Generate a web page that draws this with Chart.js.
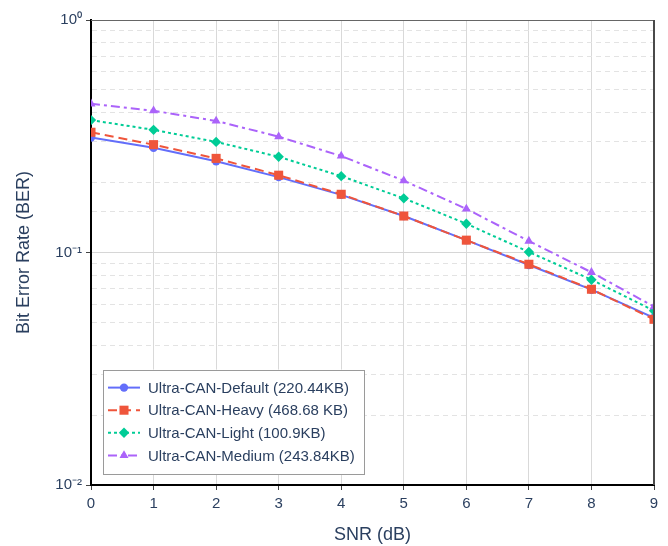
<!DOCTYPE html>
<html>
<head>
<meta charset="utf-8">
<script src="https://cdn.jsdelivr.net/npm/chart.js@4/dist/chart.umd.min.js"></script>
<style>
html,body{margin:0;padding:0;background:#ffffff;}
#wrap{width:668px;height:546px;position:relative;}
</style>
</head>
<body>
<div id="wrap"><canvas id="c" width="668" height="546"></canvas></div>
<script>
// ---- data ----
const snrLabels = ['0','1','2','3','4','5','6','7','8','9'];
const berDefault = [0.312, 0.282, 0.247, 0.211, 0.177, 0.1436, 0.113, 0.0884, 0.0692, 0.0524];
const berHeavy   = [0.329, 0.291, 0.254, 0.215, 0.178, 0.1435, 0.113, 0.0890, 0.0695, 0.0516];
const berLight   = [0.371, 0.337, 0.299, 0.258, 0.213, 0.171, 0.133, 0.1005, 0.0764, 0.0562];
const berMedium  = [0.436, 0.407, 0.368, 0.315, 0.260, 0.2037, 0.154, 0.112, 0.0822, 0.0585];
const seriesNames = [
  'Ultra-CAN-Default (220.44KB)',
  'Ultra-CAN-Heavy (468.68 KB)',
  'Ultra-CAN-Light (100.9KB)',
  'Ultra-CAN-Medium (243.84KB)'
];
const yTickValues = [0.01, 0.1, 1];
const yTickLabels = ['10\u207B\u00B2', '10\u207B\u00B9', '10\u2070'];
const xTitle = 'SNR (dB)';
const yTitle = 'Bit Error Rate (BER)';

const FONT = "'Liberation Sans', Arial, Helvetica, sans-serif";
const TXT = '#2a3f5f';
const isMajor = v => Math.abs(Math.log10(v) - Math.round(Math.log10(v))) < 1e-6;

function mkSet(label, data, color, dash, style, radius, order) {
  return {
    label: label, data: data,
    borderColor: color, backgroundColor: color,
    borderWidth: 2, borderDash: dash,
    pointStyle: style, pointRadius: radius,
    pointBackgroundColor: color, pointBorderColor: color, pointBorderWidth: 0,
    tension: 0, fill: false, clip: 0, order: order
  };
}

const datasets = [
  mkSet(seriesNames[0], berDefault, '#636efa', [], 'circle', 4.2, 4),
  mkSet(seriesNames[1], berHeavy, '#ef553b', [9, 5], 'rect', 6.4, 3),
  mkSet(seriesNames[2], berLight, '#00cc96', [3, 3], 'rectRot', 5.2, 2),
  mkSet(seriesNames[3], berMedium, '#ab63fa', [9, 4, 3, 4], 'triangle', 5.2, 1)
];

const framePlugin = {
  id: 'frame',
  afterDatasetsDraw(chart) {
    const {ctx, chartArea: a} = chart;
    ctx.save();
    ctx.setLineDash([]);
    ctx.strokeStyle = '#666666';
    ctx.lineWidth = 1.2;
    ctx.beginPath();
    ctx.moveTo(a.left, a.top + 0.5);
    ctx.lineTo(a.right, a.top + 0.5);
    ctx.stroke();
    ctx.strokeStyle = '#4a4a4a';
    ctx.lineWidth = 2;
    ctx.beginPath();
    ctx.moveTo(a.right, a.top);
    ctx.lineTo(a.right, a.bottom);
    ctx.stroke();
    ctx.restore();
  }
};

const legendPlugin = {
  id: 'innerLegend',
  afterDraw(chart) {
    const {ctx, chartArea: a} = chart;
    const sets = chart.data.datasets;
    const boxL = a.left + 12, boxR = a.left + 273;
    const boxB = a.bottom - 11, rowH = 22.6;
    const boxT = boxB - (rowH * sets.length + 14);
    ctx.save();
    ctx.fillStyle = '#ffffff';
    ctx.fillRect(boxL, boxT, boxR - boxL, boxB - boxT);
    ctx.strokeStyle = '#9a9a9a';
    ctx.lineWidth = 1;
    ctx.setLineDash([]);
    ctx.strokeRect(Math.round(boxL) + 0.5, Math.round(boxT) + 0.5, Math.round(boxR - boxL), Math.round(boxB - boxT));
    ctx.font = '15px ' + FONT;
    ctx.textBaseline = 'middle';
    ctx.textAlign = 'left';
    sets.forEach((ds, i) => {
      const y = boxT + 18 + i * rowH;
      const x0 = boxL + 5, x1 = boxL + 37, xm = (x0 + x1) / 2;
      ctx.strokeStyle = ds.borderColor;
      ctx.lineWidth = 2;
      ctx.setLineDash(ds.borderDash || []);
      ctx.beginPath();
      ctx.moveTo(x0, y);
      ctx.lineTo(x1, y);
      ctx.stroke();
      ctx.setLineDash([]);
      ctx.fillStyle = ds.pointBackgroundColor;
      ctx.strokeStyle = ds.pointBorderColor;
      Chart.helpers.drawPoint(ctx, {pointStyle: ds.pointStyle, rotation: 0, radius: ds.pointRadius, borderWidth: 0}, xm, y);
      ctx.fillStyle = TXT;
      ctx.fillText(ds.label, boxL + 45, y + 1);
    });
    ctx.restore();
  }
};

new Chart(document.getElementById('c'), {
  type: 'line',
  data: { labels: snrLabels, datasets: datasets },
  plugins: [framePlugin, legendPlugin],
  options: {
    responsive: false,
    animation: false,
    devicePixelRatio: 1,
    layout: { padding: { top: 20, right: 14, bottom: 0, left: 0 } },
    plugins: { legend: { display: false }, tooltip: { enabled: false } },
    scales: {
      x: {
        type: 'category',
        afterFit: s => { s.height = 61; },
        ticks: { color: TXT, font: { size: 15, family: FONT }, padding: 5, maxRotation: 0, autoSkip: false },
        grid: { color: '#d9d9d9', lineWidth: 1, tickLength: 5, tickColor: '#444444', tickWidth: 1 },
        border: { color: '#000000', width: 2 },
        title: { display: true, text: xTitle, color: TXT, font: { size: 18, family: FONT }, padding: { top: 0, bottom: 0 } }
      },
      y: {
        type: 'logarithmic',
        min: 0.01, max: 1,
        afterFit: s => { s.width = 91; },
        ticks: {
          color: TXT, font: { size: 15, family: FONT }, padding: 4, autoSkip: false,
          callback: (v) => {
            const idx = yTickValues.findIndex(t => Math.abs(t - v) / t < 1e-6);
            return idx >= 0 ? yTickLabels[idx] : '';
          }
        },
        grid: {
          color: c => (c.tick && isMajor(c.tick.value)) ? '#d6d6d6' : '#e3e3e3',
          lineWidth: 1, tickLength: 5, tickWidth: 1,
          tickColor: c => (c.tick && isMajor(c.tick.value)) ? '#444444' : 'rgba(0,0,0,0)'
        },
        border: {
          color: '#000000', width: 2,
          dash: c => (c.tick && !isMajor(c.tick.value)) ? [5, 4] : []
        },
        title: { display: true, text: yTitle, color: TXT, font: { size: 18, family: FONT }, padding: { top: 13, bottom: 0 } }
      }
    }
  }
});
</script>
</body>
</html>
